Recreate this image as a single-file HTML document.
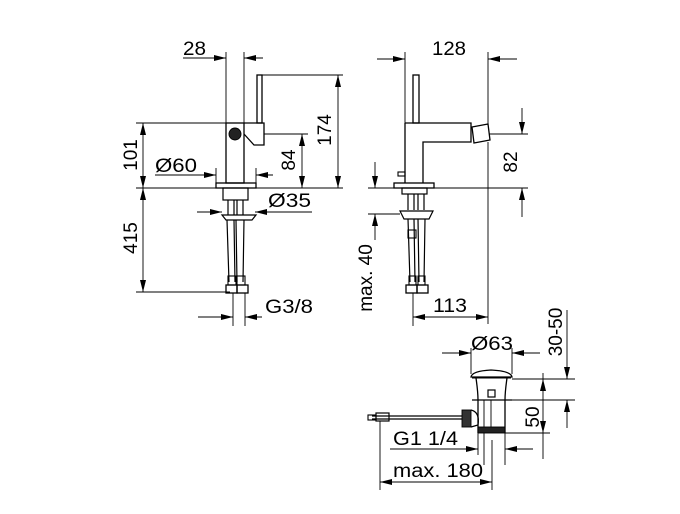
<!DOCTYPE html>
<html><head><meta charset="utf-8"><style>
html,body{margin:0;padding:0;background:#fff;}
svg{display:block;}
text{font-family:"Liberation Sans",Arial,sans-serif;font-size:19px;fill:#000;}
</style></head><body>
<svg width="680" height="514" viewBox="0 0 680 514" xmlns="http://www.w3.org/2000/svg">
<defs>
<marker id="a" viewBox="0 0 12 6" refX="12" refY="3" markerWidth="12" markerHeight="6" markerUnits="userSpaceOnUse" orient="auto"><path d="M0,0 L12,3 L0,6 z" fill="#000"/></marker>
</defs>
<g stroke="#000" fill="none" stroke-width="0.9">
<line x1="226" y1="52" x2="226" y2="123"/>
<line x1="244" y1="52" x2="244" y2="123"/>
<line x1="183" y1="58" x2="226" y2="58" marker-end="url(#a)"/>
<line x1="263" y1="58" x2="244" y2="58" marker-end="url(#a)"/>
<line x1="262" y1="75" x2="343" y2="75"/>
<line x1="136" y1="123" x2="226" y2="123"/>
<line x1="264" y1="134" x2="308" y2="134"/>
<line x1="136" y1="188" x2="343" y2="188"/>
<line x1="136" y1="292" x2="230" y2="292"/>
<line x1="338" y1="131" x2="338" y2="75" marker-end="url(#a)"/>
<line x1="338" y1="131" x2="338" y2="188" marker-end="url(#a)"/>
<line x1="302" y1="160" x2="302" y2="134" marker-end="url(#a)"/>
<line x1="302" y1="160" x2="302" y2="188" marker-end="url(#a)"/>
<line x1="143" y1="155" x2="143" y2="123" marker-end="url(#a)"/>
<line x1="143" y1="155" x2="143" y2="188" marker-end="url(#a)"/>
<line x1="143" y1="240" x2="143" y2="188" marker-end="url(#a)"/>
<line x1="143" y1="240" x2="143" y2="292" marker-end="url(#a)"/>
<line x1="155" y1="175" x2="216" y2="175" marker-end="url(#a)"/>
<line x1="273" y1="175" x2="256" y2="175" marker-end="url(#a)"/>
<line x1="216" y1="168" x2="216" y2="183"/>
<line x1="256" y1="168" x2="256" y2="183"/>
<rect x="226" y="123" width="18" height="60" stroke-width="1.3"/>
<rect x="257" y="75" width="5" height="48" stroke-width="1.3"/>
<path d="M244,123 H264 V145 H254 L244,134" stroke-width="1.3"/>
<circle cx="235" cy="134" r="6" fill="#222"/>
<rect x="216" y="183" width="40" height="5" stroke-width="1.3"/>
<rect x="223" y="188" width="25" height="12" stroke-width="1.2"/>
<line x1="197" y1="212" x2="222" y2="212" marker-end="url(#a)"/>
<line x1="312" y1="212" x2="255" y2="212" marker-end="url(#a)"/>
<path d="M222,215 H256 L252,220 H226 Z" stroke-width="1.2"/>
<path d="M228,200 V215 M234,200 V215 M237,200 V215 M243,200 V215" stroke-width="1.2"/>
<path d="M227,220 L229,282 M234,220 L235,282 M236,220 L237,282 M244,220 L243,282" stroke-width="1.2"/>
<rect x="228" y="276" width="8" height="9" stroke-width="1.1"/>
<rect x="237" y="276" width="8" height="9" stroke-width="1.1"/>
<rect x="226" y="285" width="11" height="8" stroke-width="1.3"/>
<rect x="237" y="285" width="11" height="8" stroke-width="1.3"/>
<line x1="233" y1="293" x2="233" y2="326"/>
<line x1="245" y1="293" x2="245" y2="326"/>
<line x1="198" y1="317" x2="233" y2="317" marker-end="url(#a)"/>
<line x1="262" y1="317" x2="245" y2="317" marker-end="url(#a)"/>

<line x1="405" y1="52" x2="405" y2="123"/>
<line x1="488" y1="52" x2="488" y2="125"/>
<line x1="488" y1="142" x2="488" y2="324"/>
<line x1="377" y1="59" x2="405" y2="59" marker-end="url(#a)"/>
<line x1="517" y1="59" x2="488" y2="59" marker-end="url(#a)"/>
<line x1="489" y1="134" x2="528" y2="134"/>
<line x1="368" y1="188" x2="528" y2="188"/>
<line x1="522" y1="108" x2="522" y2="134" marker-end="url(#a)"/>
<line x1="522" y1="217" x2="522" y2="188" marker-end="url(#a)"/>
<rect x="413" y="75" width="6" height="48" stroke-width="1.3"/>
<path d="M405,123 H471 V142 H423 V183 M405,123 V183" stroke-width="1.3"/>
<path d="M472,127 L488,124 L490,140 L474,143 Z" stroke-width="1.3"/>
<rect x="398" y="172" width="7" height="4" stroke-width="1.1"/>
<rect x="394" y="183" width="40" height="5" stroke-width="1.3"/>
<rect x="402" y="188" width="25" height="6" stroke-width="1.2"/>
<path d="M408,194 V210 M414,194 V210 M418,194 V210 M424,194 V210" stroke-width="1.2"/>
<line x1="368" y1="214" x2="400" y2="214"/>
<path d="M400,211 H433 L429,219 H404 Z" stroke-width="1.2"/>
<line x1="375" y1="162" x2="375" y2="188" marker-end="url(#a)"/>
<line x1="375" y1="240" x2="375" y2="214" marker-end="url(#a)"/>
<path d="M408,219 L410,282 M414,219 L415,282 M418,219 L419,282 M425,219 L424,282" stroke-width="1.2"/>
<rect x="408" y="230" width="8" height="8" stroke-width="1.1"/>
<rect x="409" y="276" width="7" height="9" stroke-width="1.1"/>
<rect x="418" y="276" width="7" height="9" stroke-width="1.1"/>
<rect x="406" y="285" width="11" height="8" stroke-width="1.3"/>
<rect x="417" y="285" width="11" height="8" stroke-width="1.3"/>
<line x1="413" y1="293" x2="413" y2="326"/>
<line x1="413" y1="317" x2="488" y2="317" marker-end="url(#a)"/>
<line x1="488" y1="317" x2="413" y2="317" marker-end="url(#a)"/>

<line x1="442" y1="353" x2="471" y2="353" marker-end="url(#a)"/>
<line x1="540" y1="353" x2="512" y2="353" marker-end="url(#a)"/>
<line x1="471" y1="348" x2="471" y2="374"/>
<line x1="512" y1="348" x2="512" y2="374"/>
<path d="M471,377 Q472,371 491,370 Q511,371 512,377 Z" stroke-width="1.3"/>
<path d="M476,378 Q478,392 478,400 M507,378 Q505,392 505,400" stroke-width="1.3"/>
<line x1="472" y1="378" x2="511" y2="378" stroke-width="1"/>
<rect x="488" y="390" width="7" height="7" stroke-width="1.2"/>
<line x1="472" y1="400" x2="512" y2="400" stroke-width="1.3"/>
<path d="M478,400 V433 M505,400 V433" stroke-width="1.3"/>
<line x1="484" y1="400" x2="484" y2="465"/>
<line x1="491" y1="400" x2="491" y2="427"/>
<rect x="478" y="427" width="27" height="6" fill="#222"/>
<line x1="372" y1="416" x2="462" y2="416" stroke-width="1.2"/>
<line x1="372" y1="419" x2="462" y2="419" stroke-width="1.2"/>
<rect x="462" y="410" width="9" height="17" fill="#333"/>
<path d="M471,410 Q480,412 478,425 L471,427" stroke-width="1.2"/>
<rect x="368" y="415" width="8" height="5" stroke-width="1.1"/>
<rect x="376" y="413" width="13" height="8" stroke-width="1.2"/>
<line x1="512" y1="379" x2="575" y2="379"/>
<line x1="512" y1="400" x2="575" y2="400"/>
<line x1="505" y1="433" x2="550" y2="433"/>
<line x1="567" y1="310" x2="567" y2="379" marker-end="url(#a)"/>
<line x1="567" y1="428" x2="567" y2="400" marker-end="url(#a)"/>
<line x1="543" y1="406" x2="543" y2="379" marker-end="url(#a)"/>
<line x1="543" y1="406" x2="543" y2="433" marker-end="url(#a)"/>
<line x1="543" y1="373" x2="543" y2="379"/>
<line x1="543" y1="433" x2="543" y2="459"/>
<line x1="505" y1="433" x2="505" y2="465"/>
<line x1="478" y1="433" x2="478" y2="455"/>
<line x1="390" y1="449" x2="478" y2="449" marker-end="url(#a)"/>
<line x1="533" y1="449" x2="505" y2="449" marker-end="url(#a)"/>
<line x1="380" y1="421" x2="380" y2="490"/>
<line x1="492" y1="440" x2="492" y2="490"/>
<line x1="380" y1="482" x2="492" y2="482" marker-end="url(#a)"/>
<line x1="492" y1="482" x2="380" y2="482" marker-end="url(#a)"/>
</g>
<g>
<text x="183" y="55" textLength="23" lengthAdjust="spacingAndGlyphs">28</text>
<text x="432" y="55" textLength="34" lengthAdjust="spacingAndGlyphs">128</text>
<text x="155" y="172" textLength="42" lengthAdjust="spacingAndGlyphs">Ø60</text>
<text x="268" y="207" textLength="43" lengthAdjust="spacingAndGlyphs">Ø35</text>
<text x="265" y="313" textLength="48" lengthAdjust="spacingAndGlyphs">G3/8</text>
<text x="433" y="312" textLength="34" lengthAdjust="spacingAndGlyphs">113</text>
<text x="471" y="350" textLength="42" lengthAdjust="spacingAndGlyphs">Ø63</text>
<text x="393" y="445" textLength="65" lengthAdjust="spacingAndGlyphs">G1 1/4</text>
<text x="393" y="477" textLength="90" lengthAdjust="spacingAndGlyphs">max. 180</text>
<text transform="translate(137,155) rotate(-90)" text-anchor="middle">101</text>
<text transform="translate(137,238) rotate(-90)" text-anchor="middle">415</text>
<text transform="translate(295,160) rotate(-90)" text-anchor="middle">84</text>
<text transform="translate(331,130) rotate(-90)" text-anchor="middle">174</text>
<text transform="translate(517,162) rotate(-90)" text-anchor="middle">82</text>
<text transform="translate(372,278) rotate(-90)" text-anchor="middle">max. 40</text>
<text transform="translate(562,332) rotate(-90)" text-anchor="middle">30-50</text>
<text transform="translate(539,417) rotate(-90)" text-anchor="middle">50</text>
</g>
</svg>
</body></html>
